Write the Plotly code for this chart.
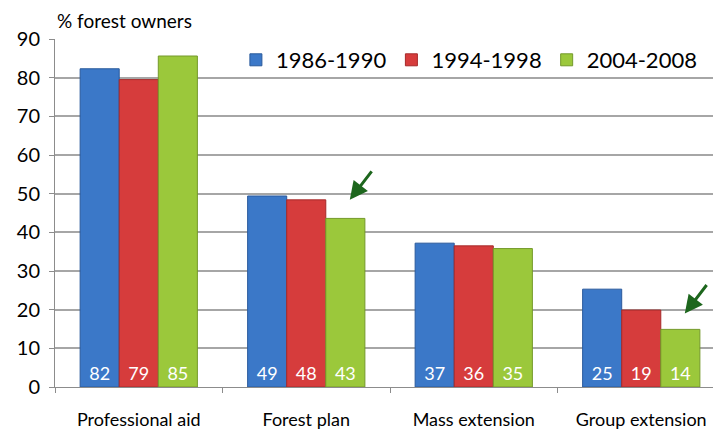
import plotly.graph_objs as go

categories = ['Professional aid', 'Forest plan', 'Mass extension', 'Group extension']
series_names = ['1986-1990', '1994-1998', '2004-2008']
values_1986 = [82.3, 49.4, 37.2, 25.3]
values_1994 = [79.5, 48.4, 36.5, 19.9]
values_2004 = [85.6, 43.6, 35.8, 14.9]
labels_1986 = ['82', '49', '37', '25']
labels_1994 = ['79', '48', '36', '19']
labels_2004 = ['85', '43', '35', '14']

colors = ['#3b78c8', '#d63c3c', '#9bc83b']
edges = ['#2a5a9c', '#a52a2a', '#74992a']

font_family = 'Lato, Open Sans, sans-serif'

traces = []
for name, vals, labs, col, edge in zip(series_names,
                                       [values_1986, values_1994, values_2004],
                                       [labels_1986, labels_1994, labels_2004],
                                       colors, edges):
    traces.append(go.Bar(x=categories, y=vals, name=name, text=labs,
                         textposition='inside', insidetextanchor='start',
                         textfont=dict(color='white', size=18, family=font_family),
                         marker=dict(color=col, line=dict(color=edge, width=1))))

layout = go.Layout(
    width=721, height=432,
    margin=dict(l=47, r=4, t=31, b=53),
    plot_bgcolor='white', paper_bgcolor='white',
    barmode='group', bargap=0.3, bargroupgap=0,
    font=dict(family=font_family, color='black'),
    xaxis=dict(showline=True, linecolor='#8c8c8c', ticks='outside', tickson='boundaries',
               ticklen=5, tickcolor='#8c8c8c', tickfont=dict(size=18),
               ticklabelstandoff=16),
    yaxis=dict(range=[0, 90], dtick=10, showline=True, linecolor='#8c8c8c',
               ticks='outside', ticklen=5, tickcolor='#8c8c8c',
               gridcolor='#a6a6a6', gridwidth=1.5, tickfont=dict(size=20),
               ticklabelstandoff=5, zeroline=False),
    legend=dict(orientation='h', x=0.27, y=1.0, xanchor='left', yanchor='top',
                font=dict(size=22), bgcolor='rgba(255,255,255,0)', itemwidth=30),
    annotations=[
        dict(text='% forest owners', xref='paper', yref='paper', x=0.0, y=1.015,
             xanchor='left', yanchor='bottom', showarrow=False, font=dict(size=19)),
        dict(x=1.26, y=48.4, xref='x', yref='y', ax=23, ay=-30, showarrow=True,
             arrowhead=2, arrowsize=1.2, arrowwidth=3, arrowcolor='#1d661d', text=''),
        dict(x=3.26, y=19.0, xref='x', yref='y', ax=23, ay=-30, showarrow=True,
             arrowhead=2, arrowsize=1.2, arrowwidth=3, arrowcolor='#1d661d', text=''),
    ],
)

fig = go.Figure(data=traces, layout=layout)
fig.write_html('out.html')
